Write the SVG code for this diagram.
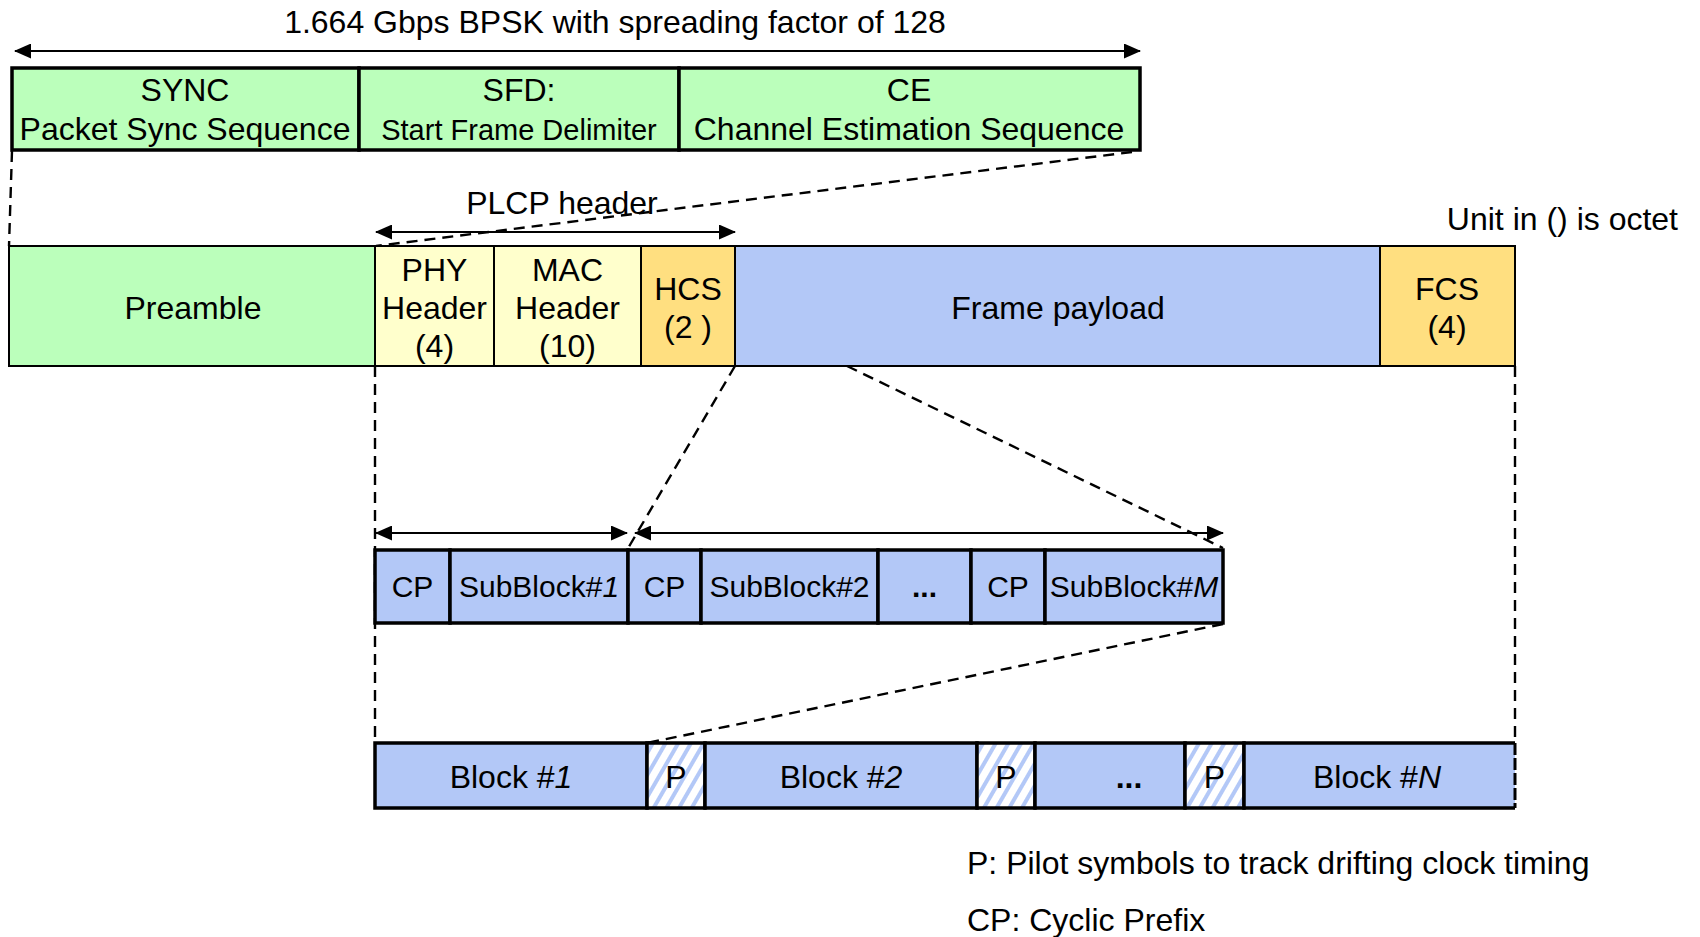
<svg xmlns="http://www.w3.org/2000/svg" width="1700" height="937" viewBox="0 0 1700 937">
<style>
text{font-family:"Liberation Sans",Arial,sans-serif;font-size:32px;fill:#000;text-anchor:middle}
.sm{font-size:29px}
.sb{font-size:30px}
.bd{font-weight:bold}
.box{stroke:#000}
.thick{stroke-width:3.5}
.thin{stroke-width:2}
.g{fill:#bbffbb}
.y{fill:#ffffcc}
.o{fill:#ffdf80}
.b{fill:#b3c8f7}
.h{fill:url(#hatch)}
.dash{fill:none;stroke:#000;stroke-width:2.4;stroke-dasharray:11 7}
.arr{fill:none;stroke:#000;stroke-width:2;marker-start:url(#ah);marker-end:url(#ah)}
</style>
<defs>
<marker id="ah" markerUnits="userSpaceOnUse" markerWidth="17" markerHeight="15" refX="16" refY="7.5" orient="auto-start-reverse">
<path d="M0,0 L17,7.5 L0,15 Z" fill="#000"/>
</marker>
<pattern id="hatch" patternUnits="userSpaceOnUse" width="11" height="11" patternTransform="rotate(30)">
<rect width="11" height="11" fill="#ffffff"/>
<rect width="4" height="11" fill="#b3c8f7"/>
</pattern>
</defs>

<text x="615" y="33">1.664 Gbps BPSK with spreading factor of 128</text>

<g id="connectors">
<line class="arr" x1="15" y1="51" x2="1140" y2="51"/>
<line class="arr" x1="376" y1="232" x2="735" y2="232"/>
<line class="arr" x1="376" y1="533" x2="627" y2="533"/>
<line class="arr" x1="635" y1="533" x2="1223" y2="533"/>
<line class="dash" x1="12" y1="151" x2="9" y2="246"/>
<line class="dash" x1="1132" y1="152" x2="376" y2="246"/>
<line class="dash" x1="375" y1="366" x2="375" y2="743"/>
<line class="dash" x1="735" y1="366" x2="627" y2="550"/>
<line class="dash" x1="847" y1="366" x2="1223" y2="548"/>
<line class="dash" x1="1515" y1="366" x2="1515" y2="743"/>
<line class="dash" x1="1223" y1="624" x2="647" y2="743"/>
</g>

<g id="sync">
<rect class="box thick g" x="12" y="68" width="347" height="82"/>
<text x="185" y="101">SYNC</text>
<text x="185" y="140">Packet Sync Sequence</text>
</g>
<g id="sfd">
<rect class="box thick g" x="359" y="68" width="320" height="82"/>
<text x="519" y="101">SFD:</text>
<text class="sm" x="519" y="140">Start Frame Delimiter</text>
</g>
<g id="ce">
<rect class="box thick g" x="679" y="68" width="461" height="82"/>
<text x="909" y="101">CE</text>
<text x="909" y="140">Channel Estimation Sequence</text>
</g>

<text x="562" y="214">PLCP header</text>
<text x="1678" y="230" style="text-anchor:end">Unit in () is octet</text>

<g id="preamble">
<rect class="box thin g" x="9" y="246" width="366" height="120"/>
<text x="193" y="319">Preamble</text>
</g>
<g id="phy">
<rect class="box thin y" x="375" y="246" width="119" height="120"/>
<text x="434.5" y="281">PHY</text>
<text x="434.5" y="319">Header</text>
<text x="434.5" y="357">(4)</text>
</g>
<g id="mac">
<rect class="box thin y" x="494" y="246" width="147" height="120"/>
<text x="567.5" y="281">MAC</text>
<text x="567.5" y="319">Header</text>
<text x="567.5" y="357">(10)</text>
</g>
<g id="hcs">
<rect class="box thin o" x="641" y="246" width="94" height="120"/>
<text x="688" y="300">HCS</text>
<text x="688" y="338">(2 )</text>
</g>
<g id="payload">
<rect class="box thin b" x="735" y="246" width="645" height="120"/>
<text x="1058" y="319">Frame payload</text>
</g>
<g id="fcs">
<rect class="box thin o" x="1380" y="246" width="135" height="120"/>
<text x="1447" y="300">FCS</text>
<text x="1447" y="338">(4)</text>
</g>

<g id="cp1">
<rect class="box thick b" x="375" y="550" width="75" height="73"/>
<text class="sb" x="412.5" y="597">CP</text>
</g>
<g id="sub1">
<rect class="box thick b" x="450" y="550" width="178" height="73"/>
<text class="sb" x="539" y="597">SubBlock#<tspan font-style="italic">1</tspan></text>
</g>
<g id="cp2">
<rect class="box thick b" x="628" y="550" width="73" height="73"/>
<text class="sb" x="664.5" y="597">CP</text>
</g>
<g id="sub2">
<rect class="box thick b" x="701" y="550" width="177" height="73"/>
<text class="sb" x="789.5" y="597">SubBlock#2</text>
</g>
<g id="subdots">
<rect class="box thick b" x="878" y="550" width="93" height="73"/>
<text class="sb bd" x="924.5" y="597">...</text>
</g>
<g id="cpm">
<rect class="box thick b" x="971" y="550" width="74" height="73"/>
<text class="sb" x="1008" y="597">CP</text>
</g>
<g id="subm">
<rect class="box thick b" x="1045" y="550" width="178" height="73"/>
<text class="sb" x="1134" y="597">SubBlock#<tspan font-style="italic">M</tspan></text>
</g>

<g id="block1">
<rect class="box thick b" x="375" y="743" width="272" height="65"/>
<text x="511" y="788">Block #<tspan font-style="italic">1</tspan></text>
</g>
<g id="p1">
<rect class="box thick h" x="647" y="743" width="58" height="65"/>
<text x="676" y="788">P</text>
</g>
<g id="block2">
<rect class="box thick b" x="705" y="743" width="272" height="65"/>
<text x="841" y="788">Block #<tspan font-style="italic">2</tspan></text>
</g>
<g id="p2">
<rect class="box thick h" x="977" y="743" width="58" height="65"/>
<text x="1006" y="788">P</text>
</g>
<g id="blockdots">
<rect class="box thick b" x="1035" y="743" width="150" height="65"/>
<text class="bd" x="1129" y="788">...</text>
</g>
<g id="p3">
<rect class="box thick h" x="1185" y="743" width="59" height="65"/>
<text x="1214.5" y="788">P</text>
</g>
<g id="blockn">
<rect class="b" x="1244" y="743" width="271" height="65"/>
<path d="M1515,743 L1244,743 L1244,808 L1515,808" fill="none" stroke="#000" stroke-width="3.5"/>
<line x1="1515" y1="743" x2="1515" y2="808" stroke="#000" stroke-width="3" stroke-dasharray="12 3"/>
<text x="1377" y="788">Block #<tspan font-style="italic">N</tspan></text>
</g>

<text x="967" y="874" style="text-anchor:start">P: Pilot symbols to track drifting clock timing</text>
<text x="967" y="931" style="text-anchor:start">CP: Cyclic Prefix</text>
</svg>
